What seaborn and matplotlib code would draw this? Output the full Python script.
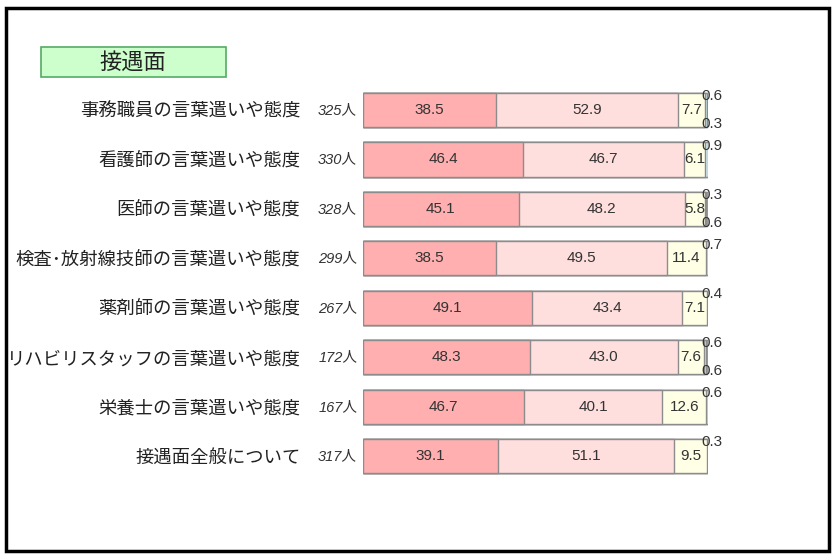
import matplotlib
matplotlib.use("Agg")
import matplotlib.pyplot as plt
import seaborn as sns
import pandas as pd
import numpy as np
from matplotlib.patches import Rectangle

categories = ["事務職員の言葉遣いや態度", "看護師の言葉遣いや態度", "医師の言葉遣いや態度",
              "検査･放射線技師の言葉遣いや態度", "薬剤師の言葉遣いや態度",
              "リハビリスタッフの言葉遣いや態度", "栄養士の言葉遣いや態度", "接遇面全般について"]
counts = ["325人", "330人", "328人", "299人", "267人", "172人", "167人", "317人"]
s1 = [38.5, 46.4, 45.1, 38.5, 49.1, 48.3, 46.7, 39.1]
s2 = [52.9, 46.7, 48.2, 49.5, 43.4, 43.0, 40.1, 51.1]
s3 = [7.7, 6.1, 5.8, 11.4, 7.1, 7.6, 12.6, 9.5]
s4 = [0.6, 0.9, 0.3, 0.7, 0.4, 0.6, 0.6, 0.3]
s5 = [0.3, 0.0, 0.6, 0.0, 0.0, 0.6, 0.0, 0.0]
title = "接遇面"

colors = ["#FFAFAF", "#FFDEDE", "#FFFFE6", "#CDEBF2", "#8EA3BC"]
series = [s1, s2, s3, s4, s5]

sns.set_theme(style="white")
plt.rcParams['font.family'] = ['Noto Sans CJK JP', 'DejaVu Sans']
num_font = ['Liberation Sans', 'Noto Sans CJK JP']

fig = plt.figure(figsize=(8.35, 5.54), dpi=100)
ax = fig.add_axes([363/835, 1 - 481/554, 345/835, (481 - 85.3)/554])

cum = np.zeros(len(categories))
cums = []
for s in series:
    cum = cum + np.array(s)
    cums.append(cum.copy())

for k in range(len(series) - 1, -1, -1):
    d = pd.DataFrame({"cat": categories, "val": cums[k]})
    sns.barplot(data=d, x="val", y="cat", orient="h", color=colors[k],
                edgecolor="#8C8C8C", linewidth=1.0, width=0.69, saturation=1, ax=ax)

ax.set_xlim(0, 100)
ax.set_ylim(7.5, -0.5)
ax.set_xlabel("")
ax.set_ylabel("")
ax.set_xticks([])
for sp in ax.spines.values():
    sp.set_visible(False)
ax.tick_params(axis="y", length=0, pad=45, labelsize=13.2, labelcolor="#222222")

txtc = "#333333"
for i in range(len(categories)):
    ax.text(-0.017, i, counts[i], transform=ax.get_yaxis_transform(), ha="right", va="center",
            fontsize=10.5, style="italic", color=txtc, family=num_font)
    left = 0
    for k in range(3):
        v = series[k][i]
        ax.text(left + v / 2, i, f"{v:.1f}", ha="center", va="center", fontsize=11,
                color=txtc, family=num_font)
        left += v
    end = cums[4][i]
    if s4[i] > 0:
        ax.text(end + 1.0, i - 0.28, f"{s4[i]:.1f}", ha="center", va="center", fontsize=11,
                color=txtc, family=num_font)
    if s5[i] > 0:
        ax.text(end + 1.0, i + 0.28, f"{s5[i]:.1f}", ha="center", va="center", fontsize=11,
                color=txtc, family=num_font)

# title box
fig.patches.append(Rectangle((41/835, 1 - 77/554), 185/835, 30/554, transform=fig.transFigure,
                             facecolor="#CCFFCC", edgecolor="#55AA66", linewidth=1.2))
fig.text(133/835, 1 - 62/554, title, ha="center", va="center", fontsize=16, color="#222222")

# outer frame
fig.patches.append(Rectangle((6/835, 1 - 551/554), 823/835, 543/554, transform=fig.transFigure,
                             facecolor="none", edgecolor="black", linewidth=2.5))

fig.savefig("out.png", dpi=100)
